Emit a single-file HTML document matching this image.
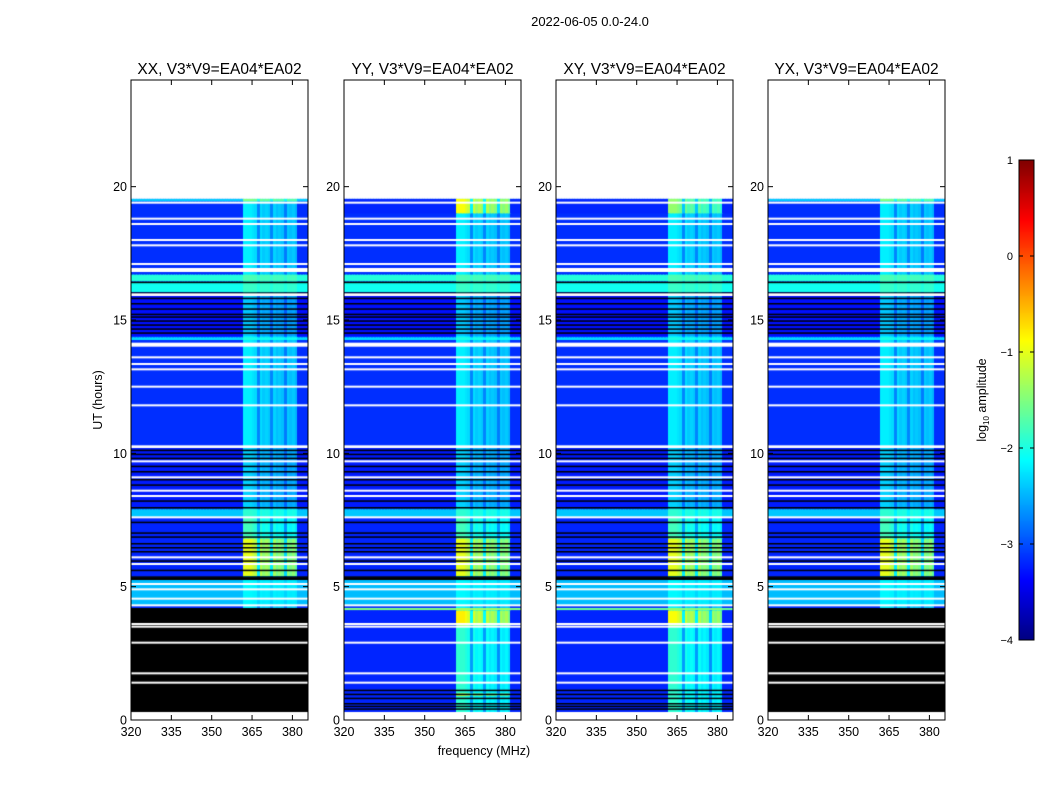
<!DOCTYPE html>
<html><head><meta charset="utf-8">
<style>
html,body{margin:0;padding:0;background:#fff;}
#root{position:relative;width:1050px;height:800px;font-family:"Liberation Sans","DejaVu Sans",sans-serif;}
canvas{position:absolute;}
svg{position:absolute;left:0;top:0;}
</style></head>
<body>
<div id="root">
<canvas id="cv" width="1050" height="800"></canvas>
<svg id="sv" width="1050" height="800"></svg>
</div>
<script>
// ---- data ----
const panelTitles = ["XX, V3*V9=EA04*EA02","YY, V3*V9=EA04*EA02","XY, V3*V9=EA04*EA02","YX, V3*V9=EA04*EA02"];
const freqTicks = [320,335,350,365,380];
const timeTicks = [0,5,10,15,20];
const cbarTicks = [1,0,-1,-2,-3,-4];
// RFI spectral profile, 1 MHz bins from 320 to 385 MHz
const rfiProfile = [0,0,0,0,0,0,0,0,0,0, 0,0,0,0,0,0,0,0,0,0, 0,0,0,0,0,0,0,0,0,0, 0,0,0,0,0,0,0,0,0,0,
  0,0,1.0,1.0,1.0,0.95,0.9,0.45,0.9,0.8,0.85,0.8,0.45,0.85,0.75,0.8,0.75,0.4,0.8,0.75,0.8,0.7,0,0,0,0];
const whiteLines = [19.4,18.8,18.6,18.0,17.8,17.1,13.6,13.35,13.15,12.5,11.8,9.7,9.1,8.6,8.4,7.6,6.1,5.85,5.1,4.9,4.55,4.3,3.6,3.5,2.9,1.75,1.4];
const whiteRanges = [[19.55,24],[16.8,16.95],[15.9,16.0],[14.0,14.15],[10.2,10.3],[0.15,0.3],[0,0.05]];
const blackLines = [16.4,16.0,15.8,15.6,15.4,15.2,15.1,14.95,14.8,14.65,14.5,10.1,9.95,9.8,9.5,9.3,9.0,8.8,8.2,7.95,7.4,7.0,6.85,6.6,6.45,6.3,5.95,5.6,5.35];
const segsXX = [[0.3,19.55,-3.15,0.95],[19.45,19.55,-2.4,0.9],[16.45,16.7,-1.95,0.2],[16.05,16.4,-2.05,0.2],[14.4,15.9,-3.3,0.9],[14.25,14.35,-2.3,0.3],[8.0,10.2,-3.25,0.9],[7.6,7.9,-2.4,0.5],[6.8,7.6,-3.2,1.4],[5.4,6.8,-3.2,2.2],[4.3,5.25,-2.45,0.3]];
const segsYY = [[19.0,19.55,-3.2,2.3],[4.12,4.2,-1.5,0.2],[3.55,4.1,-3.2,2.4],[0.9,1.0,-3.2,2.0]];
const segsXY = [[19.0,19.55,-3.2,1.8],[4.12,4.2,-1.6,0.2],[3.55,4.1,-3.2,2.3]];
const blackXX = [[0.3,4.2],[5.25,5.35]];
const blackYY = [[5.25,5.35]];
const blackLow = [1.1,0.95,0.8,0.6,0.5,0.4];
// ---- geometry ----
const panelX = [131,344,556,768], PW = 177, PT = 80, PB = 720;
function xS(i,f){return panelX[i]+(f-320)*2.69;}
function yS(t){return PB-(t/24)*(PB-PT);}
function jet(v){v=Math.max(0,Math.min(1,v));const c=x=>Math.round(255*Math.max(0,Math.min(1,1.5-Math.abs(4*v-x))));return `rgb(${c(3)},${c(2)},${c(1)})`;}
function amp2v(a){return (a+4)/5;}
const ctx = document.getElementById('cv').getContext('2d');
const panels = [
 {segs:segsXX, black:blackXX, low:[]},
 {segs:segsXX.concat(segsYY), black:blackYY, low:blackLow, lowData:true},
 {segs:segsXX.concat(segsXY), black:blackYY, low:blackLow, lowData:true},
 {segs:segsXX, black:blackXX, low:[]}
];
panels.forEach((p,i)=>{
  ctx.save(); ctx.beginPath(); ctx.rect(panelX[i],PT,PW,PB-PT); ctx.clip();
  let segs = p.segs.slice();
  if(p.lowData) segs.splice(1,0,[0.3,4.2,-3.2,1.3]);
  segs.forEach(s=>{
    for(let k=0;k<rfiProfile.length;k++){
      const f=320+k;
      ctx.fillStyle=jet(amp2v(s[2]+s[3]*rfiProfile[k]));
      const x0=xS(i,f), x1=xS(i,f+1);
      ctx.fillRect(Math.floor(x0),yS(s[1]),Math.ceil(x1)-Math.floor(x0),yS(s[0])-yS(s[1]));
    }
  });
  ctx.fillStyle='#000';
  p.black.forEach(r=>ctx.fillRect(panelX[i],yS(r[1]),PW,yS(r[0])-yS(r[1])));
  blackLines.concat(p.low).forEach(t=>ctx.fillRect(panelX[i],yS(t)-1,PW,1.5));
  ctx.fillStyle='#fff';
  whiteLines.forEach(t=>ctx.fillRect(panelX[i],yS(t)-1,PW,2));
  whiteRanges.forEach(r=>ctx.fillRect(panelX[i],yS(r[1]),PW,yS(r[0])-yS(r[1])));
  ctx.restore();
});
// colorbar
const CBX=1019,CBW=15,CBT=160,CBB=640;
for(let y=CBT;y<CBB;y++){ctx.fillStyle=jet(1-(y-CBT)/(CBB-CBT));ctx.fillRect(CBX,y,CBW,1);}
// ---- svg annotations ----
const NS='http://www.w3.org/2000/svg', sv=document.getElementById('sv');
function el(tag,attrs,text){const e=document.createElementNS(NS,tag);for(const k in attrs)e.setAttribute(k,attrs[k]);if(text!==undefined)e.textContent=text;sv.appendChild(e);return e;}
let t=el('text',{x:590,y:26,'font-size':13,'text-anchor':'middle'},'2022-06-05 0.0-24.0');


panelX.forEach((x0,i)=>{
  const fr=el('rect',{x:x0,y:PT,width:PW,height:PB-PT,fill:'none',stroke:'#000','stroke-width':1});
  
  
  const ti=el('text',{x:x0+PW/2,y:74,'font-size':15.5,'text-anchor':'middle'},panelTitles[i]);
  
  
  freqTicks.forEach(f=>{
    const x=xS(i,f);
    el('line',{x1:x,x2:x,y1:PB,y2:PB-5,stroke:'#000'});
    el('line',{x1:x,x2:x,y1:PT,y2:PT+5,stroke:'#000'});
    const l=el('text',{x:x,y:736,'font-size':12.5,'text-anchor':'middle'},String(f));
    
    
  });
  timeTicks.forEach(h=>{
    const y=yS(h);
    el('line',{x1:x0,x2:x0+5,y1:y,y2:y,stroke:'#000'});
    el('line',{x1:x0+PW,x2:x0+PW-5,y1:y,y2:y,stroke:'#000'});
    const l=el('text',{x:x0-4,y:y+4.5,'font-size':12.5,'text-anchor':'end'},String(h));
    
    
  });
});
t=el('text',{x:484,y:755,'font-size':12.5,'text-anchor':'middle'},'frequency (MHz)');


t=el('text',{x:102,y:400,'font-size':12.5,'text-anchor':'middle',transform:'rotate(-90 102 400)'},'UT (hours)');


const cb=el('rect',{x:CBX,y:CBT,width:CBW,height:CBB-CBT,fill:'none',stroke:'#000'});


cbarTicks.forEach(v=>{
  const y=CBT+(1-v)/5*(CBB-CBT);
  el('line',{x1:CBX,x2:CBX+4,y1:y,y2:y,stroke:'#000'});
  el('line',{x1:CBX+CBW,x2:CBX+CBW-4,y1:y,y2:y,stroke:'#000'});
  const l=el('text',{x:1013,y:y+4,'font-size':11,'text-anchor':'end'},v<0?'\u2212'+(-v):String(v));
  
  
});
t=el('text',{x:986,y:400,'font-size':12.5,'text-anchor':'middle',transform:'rotate(-90 986 400)'});


const s1=document.createElementNS(NS,'tspan');s1.textContent='log';t.appendChild(s1);
const s2=document.createElementNS(NS,'tspan');s2.setAttribute('font-size','8');s2.setAttribute('dy','3');s2.textContent='10';t.appendChild(s2);
const s3=document.createElementNS(NS,'tspan');s3.setAttribute('dy','-3');s3.textContent=' amplitude';t.appendChild(s3);
</script>
</body></html>
